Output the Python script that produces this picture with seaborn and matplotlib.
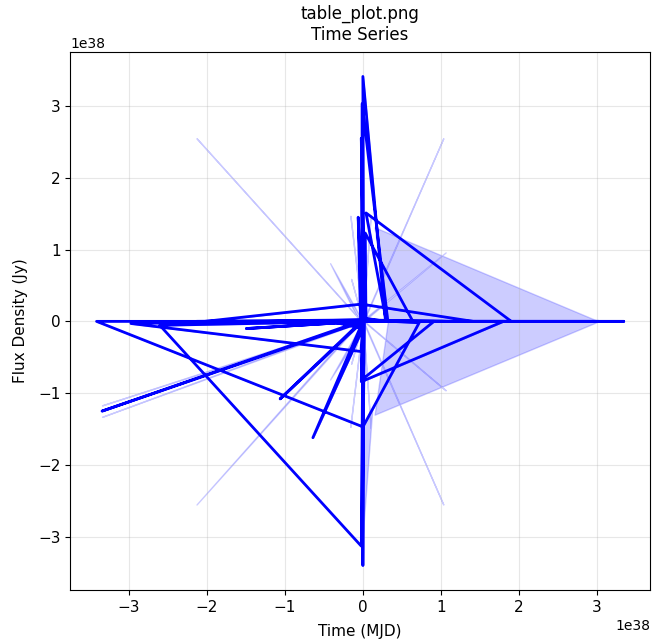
import numpy as np
import pandas as pd
import matplotlib
matplotlib.use("Agg")
import matplotlib.pyplot as plt
import seaborn as sns

SCALE = 1e38

# Time (MJD) of each point, in units of 1e38
time = [
    0.00, -3.41, -0.02, 0.00, 0.12, 0.72, 0.01, 0.00, 0.29, -0.01,
    -0.01, 0.32, 0.15, 3.02, 0.30, 0.04, 1.90, 0.04, 0.03, 0.64,
    0.00, -0.06, -0.03, -2.13, -0.02, -2.02, -0.02, 1.41, 0.00, 1.03,
    0.01, 1.06, 0.00, -2.97, -0.02, 0.00, -2.60, -0.02, 0.00, 0.00,
    0.01, -3.34, -0.01, -1.06, 0.00, -0.64, 0.00, -0.42, 0.00, -0.16,
    0.00, -0.02, 1.80, 0.01, 0.91, -0.02, 0.00, -1.49, 0.00, 3.34,
    0.00, -0.15, 0.00, 0.10, 0.00, -0.02, 0.02, -0.01, 0.00,
]
# Flux density (Jy), in units of 1e38
flux = [
    0.00, 0.00, -1.46, -1.47, -1.23, -0.02, 0.02, 3.41, 0.00, 0.05,
    3.03, 0.00, 0.00, 0.00, 0.00, 1.51, 0.00, 0.00, 1.23, 0.00,
    0.00, 1.45, 0.02, 0.00, 0.00, 0.00, 0.24, 0.00, 0.00, 0.00,
    0.00, 0.00, 0.02, -0.03, -0.42, 0.00, -0.055, -3.13, -0.10, -3.40,
    0.00, -1.25, 0.01, -1.08, 0.00, -1.62, -0.10, 0.00, 0.00, 0.00,
    0.01, -0.84, 0.00, 0.00, 0.00, -0.82, 0.00, -0.10, 0.00, 0.00,
    0.00, 0.00, 0.00, 0.00, 0.00, 2.55, 0.00, -2.95, 0.00,
]
# Lower / upper flux error, in units of 1e38
err_lo = [
    0.00, 0.00, 0.00, 1.48, 0.00, 0.00, 0.00, 0.00, 0.00, 0.00,
    0.00, 0.00, 1.30, 0.00, 0.00, 0.00, 0.00, 0.00, 0.00, 0.00,
    0.00, 0.00, 0.00, 2.55, 0.00, 0.00, 0.00, 0.00, 0.00, 2.55,
    0.00, 0.96, 0.00, 0.00, 0.00, 0.00, 0.00, 0.00, 0.00, 0.00,
    0.00, 0.08, 0.00, 0.00, 0.00, 0.00, 0.00, 0.81, 0.00, 1.47,
    0.00, 0.00, 0.00, 0.00, 0.00, 0.00, 0.00, 0.00, 0.00, 0.00,
    0.00, 0.59, 0.00, 1.48, 0.00, 0.00, 0.00, 0.00, 0.00,
]
err_hi = [
    0.00, 0.00, 0.00, 0.00, 0.00, 0.00, 0.00, 0.00, 0.00, 0.00,
    0.00, 0.00, 1.31, 0.00, 0.00, 0.00, 0.00, 0.00, 0.00, 0.00,
    0.00, 0.00, 0.00, 2.55, 0.00, 0.00, 0.00, 0.00, 0.00, 2.55,
    0.00, 0.96, 0.00, 0.00, 0.00, 0.00, 0.00, 0.00, 0.00, 0.00,
    0.00, 0.08, 0.00, 0.00, 0.00, 0.00, 0.00, 0.81, 0.00, 1.47,
    0.00, 0.00, 0.00, 0.00, 0.00, 0.00, 0.00, 0.00, 0.00, 0.00,
    0.00, 0.59, 0.00, 1.48, 0.00, 0.00, 0.00, 0.00, 0.00,
]


def main() -> None:
    df = pd.DataFrame({
        "time": np.array(time) * SCALE,
        "flux": np.array(flux) * SCALE,
        "lo": (np.array(flux) - np.array(err_lo)) * SCALE,
        "hi": (np.array(flux) + np.array(err_hi)) * SCALE,
    })

    fig, ax = plt.subplots(figsize=(6.56, 6.42), dpi=100)
    fig.subplots_adjust(left=0.107, right=0.991, top=0.919, bottom=0.081)

    ax.fill_between(df["time"], df["lo"], df["hi"], color="blue", alpha=0.2)
    sns.lineplot(data=df, x="time", y="flux", ax=ax, sort=False, estimator=None,
                 color="blue", linewidth=2)

    ax.set_title("table_plot.png\nTime Series", fontsize=12, pad=9)
    ax.set_xlabel("Time (MJD)", fontsize=11, labelpad=7)
    ax.set_ylabel("Flux Density (Jy)", fontsize=11, labelpad=7)
    ax.tick_params(labelsize=11)
    ax.grid(True, alpha=0.3)

    plt.savefig("out.png", dpi=100)
    plt.close()


if __name__ == "__main__":
    main()
